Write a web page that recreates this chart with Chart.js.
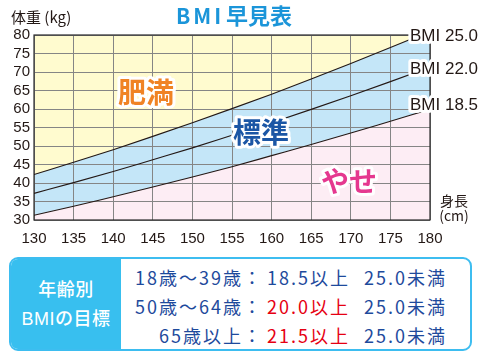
<!DOCTYPE html>
<html><head><meta charset="utf-8">
<script src="https://cdn.jsdelivr.net/npm/chart.js@4"></script>
<style>
html,body{margin:0;padding:0;background:#fff;width:483px;height:357px;overflow:hidden;font-family:"Noto Sans CJK JP","Noto Sans",sans-serif;}
#wrap{position:absolute;left:0;top:0;width:483px;height:250px;}
#box{position:absolute;left:9px;top:257px;width:459px;height:90px;border:2px solid #3dbdf0;border-radius:9px;overflow:hidden;background:#fff;}
#lab{position:absolute;left:0;top:0;width:110px;height:100%;background:#38bfef;color:#fff;font-size:18px;font-weight:500;font-family:"Liberation Sans","Noto Sans CJK JP",sans-serif;letter-spacing:0.5px;}
#lab div{position:absolute;left:0;width:110px;text-align:center;line-height:20px;}
.row{position:absolute;left:0;width:459px;height:20px;line-height:20px;font-size:18px;color:#1e4a9c;font-family:"Liberation Sans Narrow","Arial Narrow","Noto Sans CJK JP",sans-serif;letter-spacing:2px;}
.row span{position:absolute;top:0;white-space:nowrap;}
.c1{right:207px;text-align:right;}
.c2{left:256px;}
.c3{left:353px;}
.red{color:#e60012;}
</style>
</head><body>
<div id="wrap"><canvas id="c" width="483" height="250"></canvas></div>
<div id="box">
  <div id="lab"><div style="top:21px">年齢別</div><div style="top:50px">BMIの目標</div></div>
  <div class="row" style="top:8px"><span class="c1">18歳～39歳：</span><span class="c2">18.5以上</span><span class="c3">25.0未満</span></div>
  <div class="row" style="top:37px"><span class="c1">50歳～64歳：</span><span class="c2 red">20.0以上</span><span class="c3">25.0未満</span></div>
  <div class="row" style="top:66px"><span class="c1">65歳以上：</span><span class="c2 red">21.5以上</span><span class="c3">25.0未満</span></div>
</div>
<script>
const heights = [130, 135, 140, 145, 150, 155, 160, 165, 170, 175, 180];
const bmi25 = [42.3, 45.6, 49.0, 52.6, 56.3, 60.1, 64.0, 68.1, 72.3, 76.6, 81.0];
const bmi22 = [37.2, 40.1, 43.1, 46.3, 49.5, 52.9, 56.3, 59.9, 63.6, 67.4, 71.3];
const bmi185 = [31.3, 33.7, 36.3, 38.9, 41.6, 44.4, 47.4, 50.4, 53.5, 56.7, 59.9];
const lineLabels = ["BMI 25.0", "BMI 22.0", "BMI 18.5"];
const zoneLabels = ["肥満", "標準", "やせ"];
const xTicks = [130, 135, 140, 145, 150, 155, 160, 165, 170, 175, 180];
const yTicks = [30, 35, 40, 45, 50, 55, 60, 65, 70, 75, 80];

const pts = arr => heights.map((h, i) => ({x: h, y: arr[i]}));
const DARK = '#231815';
const tickFont = {family: '"Liberation Sans", Arial, sans-serif', size: 15};

const annot = {
  id: 'annot',
  beforeDatasetsDraw(chart) {
    const {ctx, chartArea: a} = chart;
    ctx.save();
    ctx.strokeStyle = '#2b2b2b';
    ctx.lineWidth = 1.2;
    ctx.strokeRect(a.left, a.top, a.right - a.left, a.bottom - a.top);
    ctx.restore();
  },
  afterDraw(chart) {
    const ctx = chart.ctx;
    ctx.save();
    ctx.textBaseline = 'middle';
    ctx.lineJoin = 'round';
    // title
    ctx.fillStyle = '#1b95d9';
    ctx.font = 'bold 21px "Noto Sans CJK JP", sans-serif';
    ctx.textAlign = 'left';
    ctx.letterSpacing = '3px';
    ctx.fillText('BMI', 176, 16);
    ctx.letterSpacing = '0px';
    ctx.font = 'bold 22px "Noto Sans CJK JP", sans-serif';
    ctx.fillText('早見表', 226, 16);
    // axis titles
    ctx.fillStyle = DARK;
    ctx.font = '15px "Noto Sans CJK JP", sans-serif';
    ctx.fillText('体重 (kg)', 11, 17);
    ctx.font = '14px "Noto Sans CJK JP", sans-serif';
    ctx.textAlign = 'center';
    ctx.fillText('身長', 454, 201);
    ctx.fillText('(cm)', 454, 216);
    // zone labels
    const zones = [[146, 92, '#f08324'], [261, 132, '#1b56a5'], [349, 181, '#e5388f']];
    ctx.font = 'bold 28px "Noto Sans CJK JP", sans-serif';
    zones.forEach((z, i) => {
      ctx.strokeStyle = '#fff';
      ctx.lineWidth = 6;
      ctx.strokeText(zoneLabels[i], z[0], z[1]);
      ctx.fillStyle = z[2];
      ctx.fillText(zoneLabels[i], z[0], z[1]);
    });
    // line labels
    ctx.textAlign = 'left';
    ctx.font = '17px "Liberation Sans", Arial, sans-serif';
    [36, 69, 105].forEach((y, i) => {
      ctx.strokeStyle = '#fff';
      ctx.lineWidth = 6;
      ctx.strokeText(lineLabels[i], 410, y);
      ctx.fillStyle = DARK;
      ctx.fillText(lineLabels[i], 410, y);
    });
    ctx.restore();
  }
};

new Chart(document.getElementById('c'), {
  type: 'line',
  data: {
    datasets: [
      {label: 'under', data: pts(bmi185), borderWidth: 0, borderColor: 'rgba(0,0,0,0)', pointRadius: 0, fill: 'start', backgroundColor: '#fdedf4', cubicInterpolationMode: 'monotone'},
      {label: lineLabels[0], data: pts(bmi25), borderColor: DARK, borderWidth: 1.1, pointRadius: 0, fill: 'end', backgroundColor: '#fffbcf', cubicInterpolationMode: 'monotone'},
      {label: lineLabels[1], data: pts(bmi22), borderColor: DARK, borderWidth: 1.1, pointRadius: 0, fill: false, cubicInterpolationMode: 'monotone'},
      {label: lineLabels[2], data: pts(bmi185), borderColor: DARK, borderWidth: 1.1, pointRadius: 0, fill: 1, backgroundColor: '#c4e6f8', cubicInterpolationMode: 'monotone'}
    ]
  },
  options: {
    responsive: false,
    animation: false,
    events: [],
    layout: {padding: {top: 35, right: 53, left: 0, bottom: 0}},
    plugins: {legend: {display: false}, tooltip: {enabled: false}, filler: {drawTime: 'beforeDraw'}},
    scales: {
      x: {
        type: 'linear', min: 130, max: 180,
        afterBuildTicks: s => { s.ticks = xTicks.map(v => ({value: v})); },
        afterFit: s => { s.height = 30; },
        grid: {color: '#858585', lineWidth: 1, drawTicks: false},
        border: {display: false},
        ticks: {font: tickFont, color: DARK, padding: 10, maxRotation: 0, autoSkip: false}
      },
      y: {
        type: 'linear', min: 30, max: 80,
        afterBuildTicks: s => { s.ticks = yTicks.map(v => ({value: v})); },
        afterFit: s => { s.width = 34; },
        grid: {color: '#858585', lineWidth: 1, drawTicks: false},
        border: {display: false},
        ticks: {font: tickFont, color: DARK, padding: 4, autoSkip: false}
      }
    }
  },
  plugins: [annot]
});
</script>
</body></html>
